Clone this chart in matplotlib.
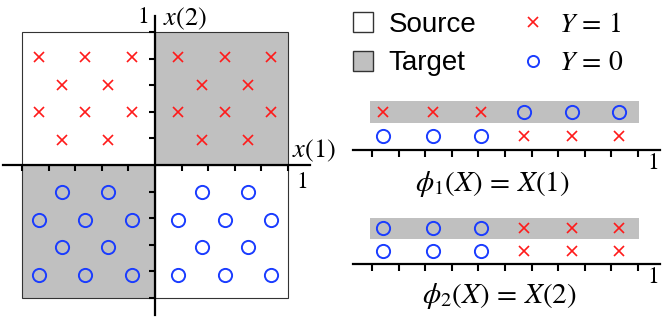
import matplotlib.pyplot as plt
import numpy as np
from matplotlib.patches import Rectangle
from matplotlib.lines import Line2D

plt.rcParams['mathtext.fontset'] = 'stix'
plt.rcParams['font.family'] = ['Liberation Sans', 'DejaVu Sans']

RED = '#ff1a1a'
BLUE = '#1a3cff'
GRAY = '#c0c0c0'

# left panel: point grid per quadrant (x(1), x(2))
full_cols = [0.175, 0.525, 0.875]
half_cols = [0.35, 0.70]
top_full_rows = [0.81, 0.40]
top_half_rows = [0.60, 0.19]
bot_full_rows = [-0.41, -0.83]
bot_half_rows = [-0.20, -0.62]

# quadrant shading: (x0, y0, is_target)
quadrants = [(-1, 0, False), (0, 0, True), (-1, -1, True), (0, -1, False)]

# projections: positions along the unit line
strip_pos = [0.04, 0.23, 0.41, 0.57, 0.75, 0.93]
phi1_top = ['x', 'x', 'x', 'o', 'o', 'o']
phi1_bot = ['o', 'o', 'o', 'x', 'x', 'x']
phi2_top = ['o', 'o', 'o', 'x', 'x', 'x']
phi2_bot = ['o', 'o', 'o', 'x', 'x', 'x']

W, H = 664, 324
fig = plt.figure(figsize=(W / 100, H / 100), dpi=100)


def px_axes(x0, y0, x1, y1):
    # axes from pixel box (top-left origin)
    return fig.add_axes([x0 / W, 1 - y1 / H, (x1 - x0) / W, (y1 - y0) / H])


def mk(ax, xs, ys, kind):
    if kind == 'x':
        ax.plot(xs, ys, 'x', color=RED, ms=7.5, mew=1.2, ls='none', zorder=4)
    else:
        ax.plot(xs, ys, 'o', mfc='none', mec=BLUE, ms=9.5, mew=1.4, ls='none', zorder=4)


# ---- left panel ----
ax = px_axes(0, 0, 330, 324)
ax.set_xlim(-155 / 133, 175 / 133)
ax.set_ylim(-159 / 133, 165 / 133)
ax.set_facecolor('none')
for q in quadrants:
    ax.add_patch(Rectangle((q[0], q[1]), 1, 1, facecolor=GRAY if q[2] else 'white',
                           edgecolor='#333333', lw=0.8, zorder=1))

for sgn in [-1, 1]:
    for rows_f, rows_h, kind in [(top_full_rows, top_half_rows, 'x'),
                                 (bot_full_rows, bot_half_rows, 'o')]:
        fx = [sgn * c for c in full_cols]
        hx = [sgn * c for c in half_cols]
        for r in rows_f:
            mk(ax, fx, [r] * len(fx), kind)
        for r in rows_h:
            mk(ax, hx, [r] * len(hx), kind)

for s in ['top', 'right']:
    ax.spines[s].set_visible(False)
ax.spines['left'].set_position(('data', 0))
ax.spines['bottom'].set_position(('data', 0))
ax.spines['left'].set_bounds(-1.13, 1.12)
ax.spines['bottom'].set_bounds(-1.145, 1.165)
for s in ['left', 'bottom']:
    ax.spines[s].set_linewidth(1.6)
    ax.spines[s].set_zorder(5)
ticks = [-1, -0.8, -0.6, -0.4, -0.2, 0.2, 0.4, 0.6, 0.8, 1]
ax.set_xticks(ticks)
ax.set_yticks(ticks)
ax.tick_params(direction='out', length=4, width=1.5, labelbottom=False, labelleft=False)
ax.text(-0.09, 1.11, '$1$', fontsize=17, ha='center', va='center')
ax.text(0.06, 1.10, '$x(2)$', fontsize=19, ha='left', va='center')
ax.text(1.03, 0.105, '$x(1)$', fontsize=19, ha='left', va='center', clip_on=False)
ax.text(1.06, -0.13, '$1$', fontsize=17, ha='left', va='center')

# ---- legend ----
lax = px_axes(340, 0, 664, 85)
lax.axis('off')
handles = [Rectangle((0, 0), 1, 1, facecolor='white', edgecolor='#333333', lw=1),
           Rectangle((0, 0), 1, 1, facecolor=GRAY, edgecolor='#333333', lw=1),
           Line2D([], [], marker='x', color=RED, ls='none', ms=7.5, mew=1.2),
           Line2D([], [], marker='o', mfc='none', mec=BLUE, ls='none', ms=8, mew=1.4)]
labels = ['Source', 'Target', '$Y\\,=\\,1$', '$Y\\,=\\,0$']
lax.legend(handles, labels, ncol=2, loc='upper left', bbox_to_anchor=(13 / 324, 1 - 12 / 85),
           frameon=False, fontsize=20, handlelength=0.72, handleheight=0.72,
           handletextpad=0.55, columnspacing=1.7, labelspacing=0.45, borderaxespad=0,
           borderpad=0)


# ---- projection strips ----
def strip(y_axis, y_top, y_bot, band0, band1, top, bot, label, label_x, label_y):
    unit = y_bot - y_top
    sax = px_axes(353, y_top - 20, 660, y_axis)
    sax.set_xlim((353 - 372) / 266, (660 - 372) / 266)
    sax.set_ylim(-(y_axis - y_bot) / unit, (y_bot - (y_top - 20)) / unit)
    sax.set_facecolor('none')
    b0 = (y_bot - band1) / unit
    b1 = (y_bot - band0) / unit
    sax.barh((b0 + b1) / 2, 1.01, height=b1 - b0, left=-0.008, color=GRAY, zorder=1)
    for k in ['x', 'o']:
        xs = [p for p, t in zip(strip_pos, top) if t == k]
        mk(sax, xs, [1] * len(xs), k)
        xs = [p for p, t in zip(strip_pos, bot) if t == k]
        mk(sax, xs, [0] * len(xs), k)
    for s in ['top', 'right', 'left']:
        sax.spines[s].set_visible(False)
    sax.spines['bottom'].set_linewidth(1.6)
    sax.set_xticks(np.arange(0, 1.01, 0.1))
    sax.set_yticks([])
    sax.tick_params(axis='x', direction='out', length=5, width=1.5, labelbottom=False)
    sax.text(1.035, -(y_axis + 13 - y_bot) / unit, '$1$', fontsize=17, ha='left', va='center',
             clip_on=False)
    fig.text(label_x / W, 1 - label_y / H, label, fontsize=21, ha='center', va='center')


strip(150, 112, 136, 101, 123, phi1_top, phi1_bot, '$\\phi_1(X)\\,=\\,X(1)$', 492, 184)
strip(264, 228, 251, 218, 239, phi2_top, phi2_bot, '$\\phi_2(X)\\,=\\,X(2)$', 499, 296)

fig.savefig('out.png', dpi=100)
